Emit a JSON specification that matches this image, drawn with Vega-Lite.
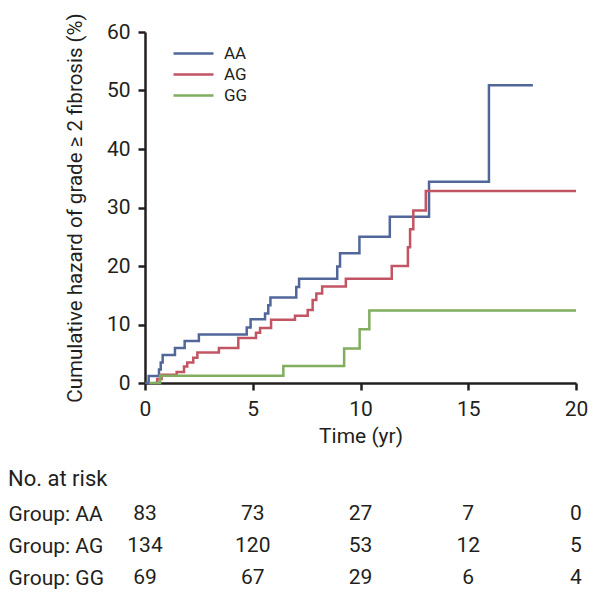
{
  "$schema": "https://vega.github.io/schema/vega-lite/v6.json",
  "padding": {"left": 8, "top": 12, "right": 5, "bottom": 5},
  "background": "white",
  "config": {
    "font": "Roboto",
    "view": {"stroke": null},
    "axis": {"domainColor": "#231f20", "tickColor": "#231f20", "labelColor": "#231f20", "titleColor": "#231f20", "grid": false, "labelFont": "Roboto", "titleFont": "Roboto", "titleFontWeight": "normal"},
    "legend": {"labelFont": "Roboto"},
    "title": {"font": "Roboto", "fontWeight": "normal", "color": "#231f20"},
    "text": {"font": "Roboto"}
  },
  "spacing": 22,
  "vconcat": [
    {
      "width": 431,
      "height": 351,
      "data": {"values": [
        {"group": "AA", "t": 0, "v": 0}, {"group": "AA", "t": 0.17, "v": 1.2}, {"group": "AA", "t": 0.65, "v": 2.3}, {"group": "AA", "t": 0.73, "v": 3.5}, {"group": "AA", "t": 0.82, "v": 4.8}, {"group": "AA", "t": 1.39, "v": 6.0}, {"group": "AA", "t": 1.84, "v": 7.2}, {"group": "AA", "t": 2.5, "v": 8.3}, {"group": "AA", "t": 4.72, "v": 9.5}, {"group": "AA", "t": 4.9, "v": 10.9}, {"group": "AA", "t": 5.57, "v": 11.9}, {"group": "AA", "t": 5.72, "v": 13.3}, {"group": "AA", "t": 5.82, "v": 14.6}, {"group": "AA", "t": 7.02, "v": 16.4}, {"group": "AA", "t": 7.15, "v": 17.8}, {"group": "AA", "t": 8.92, "v": 19.9}, {"group": "AA", "t": 9.05, "v": 22.2}, {"group": "AA", "t": 9.95, "v": 25.0}, {"group": "AA", "t": 11.36, "v": 28.4}, {"group": "AA", "t": 13.18, "v": 34.4}, {"group": "AA", "t": 15.96, "v": 50.9}, {"group": "AA", "t": 18.0, "v": 50.9},
        {"group": "AG", "t": 0.45, "v": 0}, {"group": "AG", "t": 0.57, "v": 0.7}, {"group": "AG", "t": 0.77, "v": 1.4}, {"group": "AG", "t": 1.47, "v": 1.9}, {"group": "AG", "t": 1.81, "v": 2.8}, {"group": "AG", "t": 1.96, "v": 3.5}, {"group": "AG", "t": 2.24, "v": 4.3}, {"group": "AG", "t": 2.43, "v": 5.2}, {"group": "AG", "t": 3.43, "v": 6.0}, {"group": "AG", "t": 4.33, "v": 7.7}, {"group": "AG", "t": 5.15, "v": 8.6}, {"group": "AG", "t": 5.34, "v": 9.4}, {"group": "AG", "t": 5.85, "v": 10.8}, {"group": "AG", "t": 6.96, "v": 11.5}, {"group": "AG", "t": 7.55, "v": 12.5}, {"group": "AG", "t": 7.78, "v": 14.2}, {"group": "AG", "t": 7.95, "v": 15.3}, {"group": "AG", "t": 8.22, "v": 16.5}, {"group": "AG", "t": 9.32, "v": 17.8}, {"group": "AG", "t": 11.45, "v": 20.0}, {"group": "AG", "t": 12.2, "v": 23.2}, {"group": "AG", "t": 12.3, "v": 26.3}, {"group": "AG", "t": 12.45, "v": 29.5}, {"group": "AG", "t": 13.03, "v": 32.8}, {"group": "AG", "t": 20.0, "v": 32.8},
        {"group": "GG", "t": 0.2, "v": 0}, {"group": "GG", "t": 0.7, "v": 1.25}, {"group": "GG", "t": 6.42, "v": 2.9}, {"group": "GG", "t": 9.24, "v": 5.9}, {"group": "GG", "t": 9.96, "v": 9.2}, {"group": "GG", "t": 10.41, "v": 12.4}, {"group": "GG", "t": 20.0, "v": 12.4}
      ]},
      "mark": {"type": "line", "interpolate": "step-after", "strokeWidth": 2.5},
      "encoding": {
        "x": {"field": "t", "type": "quantitative", "scale": {"domain": [0, 20], "nice": false},
          "axis": {"values": [0, 5, 10, 15, 20], "title": "Time (yr)", "domainWidth": 2.5, "tickWidth": 2.5, "tickSize": 7, "labelPadding": 8, "labelFontSize": 21, "titleFontSize": 21, "titlePadding": 6, "labelFlush": false}},
        "y": {"field": "v", "type": "quantitative", "scale": {"domain": [0, 60], "nice": false},
          "axis": {"values": [0, 10, 20, 30, 40, 50, 60], "title": "Cumulative hazard of grade \u2265 2 fibrosis (%)", "domainWidth": 2.5, "tickWidth": 2.5, "tickSize": 7, "labelPadding": 8, "labelFontSize": 21, "titleFontSize": 20.5, "titlePadding": 21, "labelFlush": false}},
        "color": {"field": "group", "type": "nominal",
          "scale": {"domain": ["AA", "AG", "GG"], "range": ["#51679a", "#c25563", "#80ad5e"]},
          "legend": {"orient": "none", "legendX": 37, "legendY": 10, "title": null, "padding": 0, "symbolType": "M-2,0H2", "symbolSize": 400, "symbolStrokeWidth": 2.5, "labelOffset": 19, "labelFontSize": 17, "labelColor": "#231f20", "rowPadding": 1}}
      }
    },
    {
      "width": 431,
      "height": 96,
      "title": {"text": "No. at risk", "anchor": "start", "frame": "bounds", "fontSize": 22, "offset": 7},
      "data": {"values": [
        {"group": "AA", "t": 0, "n": 83}, {"group": "AA", "t": 5, "n": 73}, {"group": "AA", "t": 10, "n": 27}, {"group": "AA", "t": 15, "n": 7}, {"group": "AA", "t": 20, "n": 0},
        {"group": "AG", "t": 0, "n": 134}, {"group": "AG", "t": 5, "n": 120}, {"group": "AG", "t": 10, "n": 53}, {"group": "AG", "t": 15, "n": 12}, {"group": "AG", "t": 20, "n": 5},
        {"group": "GG", "t": 0, "n": 69}, {"group": "GG", "t": 5, "n": 67}, {"group": "GG", "t": 10, "n": 29}, {"group": "GG", "t": 15, "n": 6}, {"group": "GG", "t": 20, "n": 4}
      ]},
      "mark": {"type": "text", "align": "center", "baseline": "middle", "fontSize": 21, "color": "#231f20", "font": "Roboto"},
      "encoding": {
        "x": {"field": "t", "type": "quantitative", "scale": {"domain": [0, 20], "nice": false}, "axis": null},
        "y": {"field": "group", "type": "nominal", "sort": ["AA", "AG", "GG"],
          "axis": {"title": null, "domain": false, "ticks": false, "labelAlign": "left", "labelPadding": 137, "labelFontSize": 21, "labelExpr": "'Group: ' + datum.label"}},
        "text": {"field": "n", "type": "quantitative"}
      }
    }
  ]
}
